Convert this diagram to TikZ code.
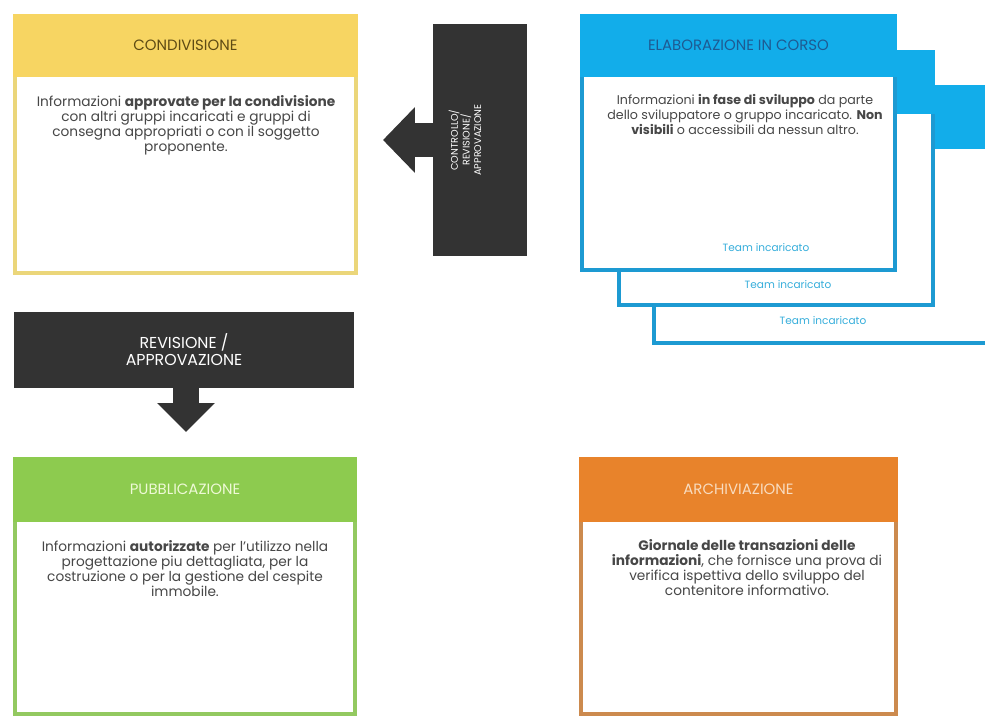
\documentclass[tikz,border=0pt]{standalone}
\usepackage{fontspec}
\setmainfont{Poppins}
\usepackage{tikz}
\usetikzlibrary{arrows.meta}
\definecolor{condyellow}{HTML}{F7D562}
\definecolor{condborder}{HTML}{EBD67A}
\definecolor{condtitle}{HTML}{5E4B14}
\definecolor{wipblue}{HTML}{12ADEA}
\definecolor{wipborder}{HTML}{1D9AD2}
\definecolor{wiptitle}{HTML}{1E5A92}
\definecolor{teamtext}{HTML}{36AEDB}
\definecolor{ctrldark}{HTML}{333333}
\definecolor{pubgreen}{HTML}{8DCB4F}
\definecolor{pubborder}{HTML}{93C960}
\definecolor{pubtitle}{HTML}{EEF9D6}
\definecolor{arcorange}{HTML}{E8832B}
\definecolor{arcborder}{HTML}{CC8A4E}
\definecolor{arctitle}{HTML}{F8DCC0}
\tikzset{
stagebox/.style={rectangle, draw=#1, fill=white, line width=0.08cm, inner sep=0pt},
stagehead/.style={rectangle, draw=#1, fill=#1, line width=0.08cm, inner sep=0pt, anchor=north, font=\fontsize{8.5}{10}\selectfont},
bodytext/.style={align=center, anchor=north, inner sep=0pt, text=black!72, font=\fontsize{7.8}{8.6}\selectfont},
teamlabel/.style={inner sep=0pt, text=teamtext, font=\fontsize{6}{7}\selectfont},
ctrlbox/.style={rectangle, fill=ctrldark, inner sep=0pt},
ctrltext/.style={align=center, inner sep=0pt, text=white, font=\fontsize{5.5}{6.6}\selectfont},
fatarrow/.style={draw=ctrldark, fill=ctrldark, line width=0.68cm, -{Triangle[length=0.64cm, width=1.28cm]}},
}
\begin{document}
\begin{tikzpicture}[x=0.02cm, y=-0.02cm]
        \useasboundingbox (0,0) rectangle (985,716);

        \node[stagebox=condborder, minimum width=6.82cm, minimum height=5.14cm] at (185.5,144.5) (cond) {};
        \node[stagehead=condyellow, text=condtitle, minimum width=6.82cm, minimum height=1.18cm] at (cond.north) (condhead) {CONDIVISIONE};
        \node[bodytext] at (186,95) (condbody) {Informazioni \textbf{approvate per la condivisione}\\con altri gruppi incaricati e gruppi di\\consegna appropriati o con il soggetto\\proponente.};

        \node[ctrlbox, minimum width=1.88cm, minimum height=4.64cm] at (480,140) (ctrl) {};
        \node[ctrltext, rotate=90] at (465,140) (ctrllabel) {CONTROLLO/\\REVISIONE/\\APPROVAZIONE};
        \coordinate (ctrltip) at (383,140);
        \draw[fatarrow] (ctrl.west) -- (ctrltip);

        \node[stagebox=wipborder, minimum width=6.76cm, minimum height=5.12cm] at (823,215) (wip3) {};
        \node[stagehead=wipblue, minimum width=6.76cm, minimum height=1.2cm] at (wip3.north) (wiphead3) {};
        \node[teamlabel] at (823,321) (team3) {Team incaricato};

        \node[stagebox=wipborder, minimum width=6.28cm, minimum height=5.06cm] at (776,178.5) (wip2) {};
        \node[stagehead=wipblue, minimum width=6.28cm, minimum height=1.2cm] at (wip2.north) (wiphead2) {};
        \node[teamlabel] at (788,285) (team2) {Team incaricato};

        \node[stagebox=wipborder, minimum width=6.26cm, minimum height=5.08cm] at (738.5,143) (wip) {};
        \node[stagehead=wipblue, text=wiptitle, minimum width=6.26cm, minimum height=1.18cm] at (wip.north) (wiphead) {ELABORAZIONE IN CORSO};
        \node[bodytext, font=\fontsize{7.2}{8.6}\selectfont] at (745,94) (wipbody) {Informazioni \textbf{in fase di sviluppo} da parte\\dello sviluppatore o gruppo incaricato. \textbf{Non}\\\textbf{visibili} o accessibili da nessun altro.};
        \node[teamlabel] at (766,248) (team1) {Team incaricato};

        \node[ctrlbox, minimum width=6.8cm, minimum height=1.52cm, align=center, text=white, font=\fontsize{9}{9.6}\selectfont] at (184,350) (rev) {REVISIONE /\\APPROVAZIONE};
        \coordinate (revtip) at (186,432);
        \draw[fatarrow, line width=0.54cm, -{Triangle[length=0.58cm, width=1.12cm]}] (rev.south -| revtip) -- (revtip);

        \node[stagebox=pubborder, minimum width=6.8cm, minimum height=5.1cm] at (185,586.5) (pub) {};
        \node[stagehead=pubgreen, text=pubtitle, minimum width=6.8cm, minimum height=1.22cm] at (pub.north) (pubhead) {PUBBLICAZIONE};
        \node[bodytext] at (185,540) (pubbody) {Informazioni \textbf{autorizzate} per l'utilizzo nella\\progettazione piu dettagliata, per la\\costruzione o per la gestione del cespite\\immobile.};

        \node[stagebox=arcborder, minimum width=6.3cm, minimum height=5.1cm] at (738.5,586.5) (arc) {};
        \node[stagehead=arcorange, text=arctitle, minimum width=6.3cm, minimum height=1.22cm] at (arc.north) (archead) {ARCHIVIAZIONE};
        \node[bodytext] at (747,539) (arcbody) {\textbf{Giornale delle transazioni delle}\\\textbf{informazioni}, che fornisce una prova di\\verifica ispettiva dello sviluppo del\\contenitore informativo.};
    \end{tikzpicture}
\end{document}
